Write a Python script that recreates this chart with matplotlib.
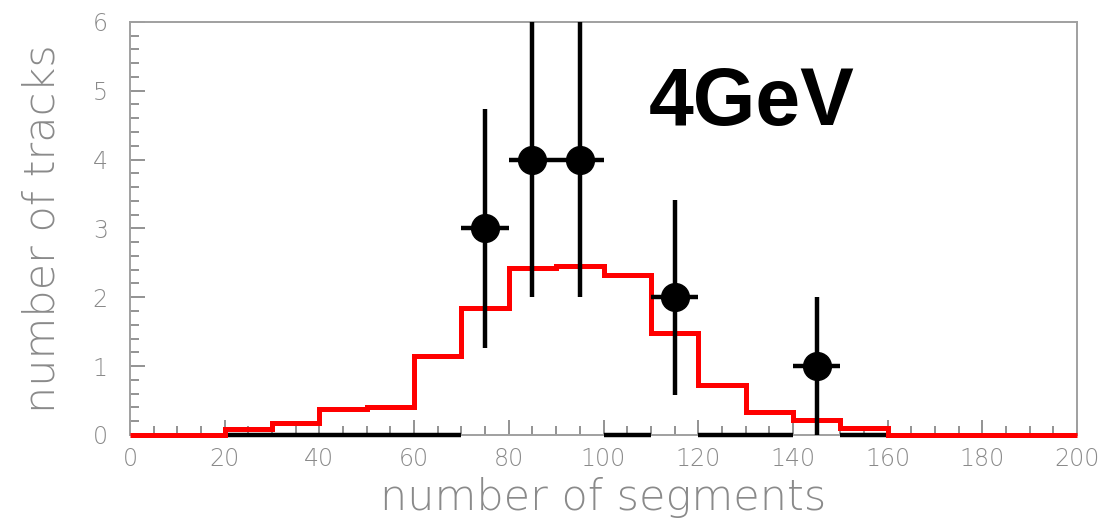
import numpy as np
import matplotlib.pyplot as plt
from matplotlib.ticker import MultipleLocator

# simulated distribution (red histogram), bins of 10 segments
sim_edges = np.arange(0, 210, 10)
sim_counts = [0, 0, 0.08, 0.17, 0.38, 0.41, 1.14, 1.84, 2.43, 2.45,
              2.33, 1.48, 0.72, 0.34, 0.22, 0.10, 0, 0, 0, 0]

# measured tracks per bin (black points)
data_centers = [25, 35, 45, 55, 65, 75, 85, 95, 105, 115, 125, 135, 145, 155]
data_counts = [0, 0, 0, 0, 0, 3, 4, 4, 0, 2, 0, 0, 1, 0]

grey = "#8a8a8a"

fig = plt.figure(figsize=(11.02, 5.22), dpi=100)
ax = fig.add_axes([0.118, 0.1667, 0.8593, 0.7916])

# histogram drawn as steps, on top of the frame so zero bins show
ax.stairs(sim_counts, sim_edges, color="red", linewidth=3.6, zorder=4,
          clip_on=False)

x = np.array(data_centers)
y = np.array(data_counts, dtype=float)
nz = y > 0
# empty bins: just the horizontal bin-width bar
ax.errorbar(x[~nz], y[~nz], xerr=5, fmt="none", ecolor="black",
            elinewidth=3.2, capsize=0, zorder=3, clip_on=False)
# filled bins with poisson errors
ax.errorbar(x[nz], y[nz], xerr=5, yerr=np.sqrt(y[nz]), fmt="o", color="black",
            markersize=20, elinewidth=3.2, capsize=0, zorder=5)

ax.text(109.5, 4.5, "4GeV", fontsize=58, fontweight="bold",
        family="Liberation Sans", ha="left", va="baseline")

ax.set_xlim(0, 200)
ax.set_ylim(0, 6)
ax.xaxis.set_major_locator(MultipleLocator(20))
ax.xaxis.set_minor_locator(MultipleLocator(5))
ax.yaxis.set_major_locator(MultipleLocator(1))
ax.yaxis.set_minor_locator(MultipleLocator(0.2))
ax.tick_params(which="both", direction="in", color=grey, width=1.3,
               top=False, right=False)
ax.tick_params(which="major", length=11)
ax.tick_params(which="minor", length=6.5)
ax.tick_params(axis="x", pad=9, labelsize=17, labelcolor=grey)
ax.tick_params(axis="y", pad=16, labelsize=17, labelcolor=grey)
for lab in ax.get_xticklabels() + ax.get_yticklabels():
    lab.set_family("DejaVu Sans")
    lab.set_fontweight(200)

for s in ax.spines.values():
    s.set_color("#a0a0a0")
    s.set_linewidth(1.4)

ax.set_xlabel("number of segments", fontsize=31, color=grey,
              family="DejaVu Sans", fontweight=200, labelpad=4)
ax.set_ylabel("number of tracks", fontsize=31, color=grey,
              family="DejaVu Sans", fontweight=200, labelpad=22)

fig.savefig("out.png", dpi=100)
